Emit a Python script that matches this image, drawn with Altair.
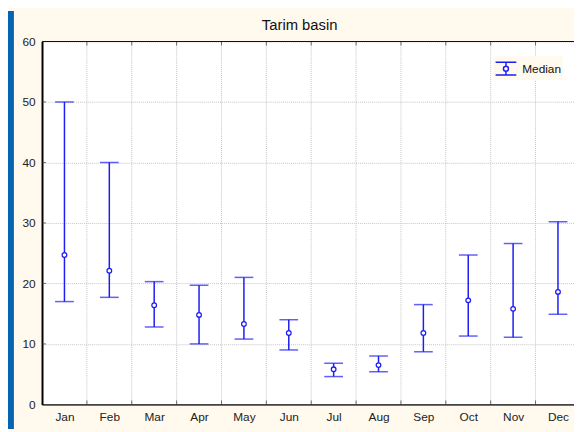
import altair as alt
import pandas as pd

months = ["Jan", "Feb", "Mar", "Apr", "May", "Jun", "Jul", "Aug", "Sep", "Oct", "Nov", "Dec"]
low = [17.0, 17.7, 12.8, 10.0, 10.8, 9.0, 4.6, 5.4, 8.7, 11.3, 11.1, 14.9]
median = [24.7, 22.1, 16.4, 14.8, 13.3, 11.8, 5.8, 6.5, 11.8, 17.2, 15.8, 18.6]
high = [50.0, 40.0, 20.3, 19.7, 21.0, 14.0, 6.8, 8.0, 16.5, 24.7, 26.6, 30.2]
y_ticks = [0, 10, 20, 30, 40, 50, 60]
title_text = "Tarim basin"
legend_label = "Median"

BLUE = "#1c1cf5"
CREAM = "#fff9ee"
EDGE = "#0565b3"
FONT = "Liberation Sans"

W, H = 539.5, 368
BAND = 45.5

df = pd.DataFrame({
    "pos": list(range(1, len(months) + 1)),
    "month": months,
    "low": low,
    "median": median,
    "high": high,
    "series": [legend_label] * len(months),
})
bounds = pd.DataFrame({"b": [i + 0.5 for i in range(1, len(months))]})
yt = pd.DataFrame({"v": y_ticks[1:-1]})
one = pd.DataFrame({"t": [title_text]})

xdom = [0.5, 0.5 + W / BAND]
label_expr = "[" + ",".join("'%s'" % m for m in months) + "][datum.value-1]"

xscale = alt.Scale(domain=xdom, nice=False, zero=False)
yscale = alt.Scale(domain=[0, 60], nice=False)

x_enc = alt.X("pos:Q", scale=xscale,
              axis=alt.Axis(values=list(range(1, len(months) + 1)), labelExpr=label_expr,
                            title=None, grid=False, ticks=False, labelPadding=7,
                            domainColor="#444444", domainWidth=2,
                            labelFont=FONT, labelFontSize=12, labelColor="#222222"))

base = alt.Chart(df)
single = alt.Chart(one)

# blue page edge strip
edge = single.mark_rect(color=EDGE).encode(
    x=alt.value(-34.5), x2=alt.value(-28.5), y=alt.value(-31), y2=alt.value(H + 25)
)

title = single.mark_text(font=FONT, fontSize=15, color="#111111", align="center",
                         baseline="alphabetic").encode(
    x=alt.value(W / 2 - 8.5), y=alt.value(-12), text="t:N"
)

vgrid = alt.Chart(bounds).mark_rule(color="#c4c4c4", strokeDash=[1, 1], strokeWidth=1).encode(
    x=alt.X("b:Q", scale=xscale)
)
btick = alt.Chart(bounds).mark_tick(orient="vertical", color="#333333", size=4, thickness=1).encode(
    x=alt.X("b:Q", scale=xscale), y=alt.value(H - 2)
)
ttick = alt.Chart(bounds).mark_tick(orient="vertical", color="#333333", size=4, thickness=1).encode(
    x=alt.X("b:Q", scale=xscale), y=alt.value(2)
)
ltick = alt.Chart(yt).mark_tick(orient="horizontal", color="#333333", size=4, thickness=1).encode(
    y=alt.Y("v:Q", scale=yscale), x=alt.value(2)
)
topline = single.mark_rule(color="#111111", strokeWidth=1.2).encode(
    y=alt.value(0), x=alt.value(0), x2=alt.value(W)
)

y_enc = alt.Y("low:Q", scale=yscale,
              axis=alt.Axis(values=y_ticks, title=None, ticks=False, labelPadding=7,
                            grid=True, gridColor="#c4c4c4", gridDash=[1, 1], gridWidth=1,
                            domainColor="#000000", domainWidth=2,
                            labelFont=FONT, labelFontSize=12, labelColor="#222222"))

stem = base.mark_rule(color=BLUE, strokeWidth=1.5).encode(
    x=x_enc, y=y_enc, y2="high:Q"
)
cap_lo = base.mark_tick(orient="horizontal", color=BLUE, size=19, thickness=1.5).encode(
    x=alt.X("pos:Q", scale=xscale), y=alt.Y("low:Q", scale=yscale)
)
cap_hi = base.mark_tick(orient="horizontal", color=BLUE, size=19, thickness=1.5).encode(
    x=alt.X("pos:Q", scale=xscale), y=alt.Y("high:Q", scale=yscale)
)

sym_path = ("M-1,-0.62H1M0,-0.62V-0.24M0,0.24V0.62M-1,0.62H1"
            "M0.24,0A0.24,0.24,0,1,1,-0.24,0A0.24,0.24,0,1,1,0.24,0Z")

pts = base.mark_point(filled=True, fill="white", size=22, strokeWidth=1.3, opacity=1).encode(
    x=alt.X("pos:Q", scale=xscale),
    y=alt.Y("median:Q", scale=yscale),
    stroke=alt.Stroke("series:N", scale=alt.Scale(range=[BLUE]),
                      legend=alt.Legend(title=None, orient="none", legendX=458, legendY=15,
                                        symbolType=sym_path, symbolSize=441,
                                        symbolStrokeWidth=1.5, symbolFillColor="white",
                                        symbolStrokeColor=BLUE, fillColor=CREAM,
                                        padding=1, labelOffset=5,
                                        labelFont=FONT, labelFontSize=12,
                                        labelColor="#111111")),
)

chart = alt.layer(
    edge, title, vgrid, stem, cap_lo, cap_hi, pts, btick, ttick, ltick, topline
).properties(
    width=W, height=H,
    padding={"left": 34.5, "top": 31, "right": 0, "bottom": 25},
    autosize=alt.AutoSizeParams(type="none"),
    background=CREAM,
).configure_view(
    fill="white", stroke=None
)

chart.save("out.html", embed_options={"renderer": "svg", "actions": False})
